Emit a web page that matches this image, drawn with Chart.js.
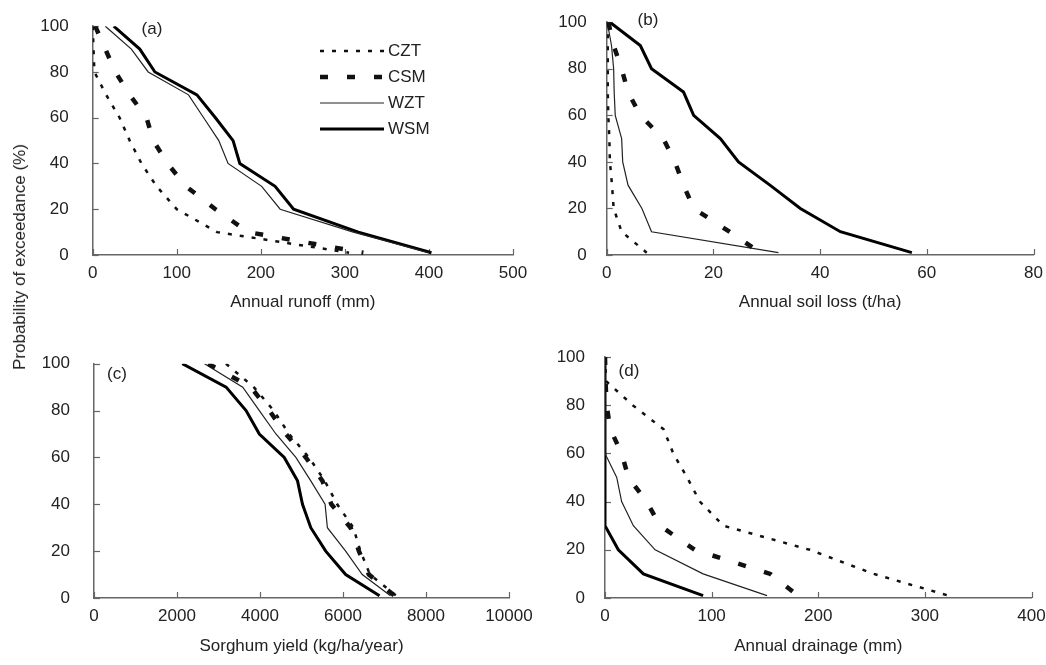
<!DOCTYPE html>
<html><head><meta charset="utf-8">
<script src="https://cdn.jsdelivr.net/npm/chart.js@4/dist/chart.umd.min.js"></script>
<style>
body{margin:0;background:#fff;width:1046px;height:665px;overflow:hidden;position:relative;font-family:"Liberation Sans",Arial,sans-serif}
canvas{position:absolute}
#ylab{position:absolute;left:20px;top:257px;transform:translate(-50%,-50%) rotate(-90deg);white-space:nowrap;font-size:17px;color:#222;line-height:20px}
</style></head><body>
<canvas id="ca" width="533" height="320" style="left:0;top:0"></canvas>
<canvas id="cb" width="513" height="320" style="left:533px;top:0"></canvas>
<canvas id="cc" width="533" height="345" style="left:0;top:320px"></canvas>
<canvas id="cd" width="513" height="345" style="left:533px;top:320px"></canvas>
<div id="ylab">Probability of exceedance (%)</div>
<script>
// Probability of exceedance levels (%)
const prob = [100, 90, 80, 70, 60, 50, 40, 30, 20, 10, 1];
const seriesNames = ["CZT", "CSM", "WZT", "WSM"];

// (a) Annual runoff (mm)
const runoffCZT = [0, 1, 2, 16, 32, 44, 58, 76, 100, 148, 305];
const runoffCSM = [3, 15, 27, 44, 64, 72, 89, 111, 146, 185, 322];
const runoffWZT = [15, 46, 66, 114, 132, 150, 161, 201, 223, 310, 400];
const runoffWSM = [25, 56, 74, 124, 146, 167, 175, 217, 239, 316, 403];

// (b) Annual soil loss (t/ha)
const soilCZT = [0.2, 0.2, 0.2, 0.2, 0.3, 0.5, 0.6, 1.0, 1.3, 2.8, 7.5];
const soilCSM = [0.3, 1.3, 2.8, 4.0, 6.3, 10.6, 12.8, 14.4, 16.3, 23.0, 28.8];
const soilWZT = [0.1, 0.9, 1.3, 1.4, 1.6, 2.8, 3.0, 4.0, 6.6, 8.4, 32.2];
const soilWSM = [0.6, 6.3, 8.4, 14.4, 16.3, 21.3, 24.7, 30.6, 36.3, 43.8, 57.2];

// (c) Sorghum yield (kg/ha/year)
const yieldCZT = [3180, 3850, 4330, 4700, 5180, 5560, 5860, 6250, 6420, 6650, 7280];
const yieldCSM = [2750, 3780, 4224, 4624, 5104, 5504, 5720, 6184, 6384, 6624, 7240];
const yieldWZT = [2664, 3584, 3984, 4384, 4864, 5224, 5568, 5624, 6064, 6464, 7144];
const yieldWSM = [2128, 3184, 3664, 3984, 4584, 4904, 5024, 5224, 5584, 6064, 6880];

// (d) Annual drainage (mm)
const drainCZT = [0, 1, 26, 55, 64, 77, 89, 111, 192, 252, 322];
const drainCSM = [0, 0.5, 1.5, 5, 15.6, 22, 39, 51.6, 84, 155, 181];
const drainWZT = [0, 0, 0, 0, 0, 11, 15.6, 26.6, 47, 92, 152];
const drainWSM = [0, 0, 0, 0, 0, 0, 0, 0, 12.5, 36, 92];

const FONT = '"Liberation Sans", Arial, sans-serif';
const styles = [
  {borderColor:'#111', borderWidth:2.5, borderDash:[4,8]},
  {borderColor:'#111', borderWidth:4.5, borderDash:[8,19]},
  {borderColor:'#222', borderWidth:1.2, borderDash:[]},
  {borderColor:'#000', borderWidth:3, borderDash:[]}
];

const insideTicks = {
  id:'insideTicks',
  beforeDatasetsDraw(chart){
    const {ctx, chartArea:a, scales:{x, y}} = chart;
    ctx.save(); ctx.strokeStyle = '#666'; ctx.lineWidth = 1.2;
    x.ticks.forEach(t => { const px = Math.round(x.getPixelForValue(t.value)) + 0.5;
      ctx.beginPath(); ctx.moveTo(px, a.bottom); ctx.lineTo(px, a.bottom - 6); ctx.stroke(); });
    y.ticks.forEach(t => { const py = Math.round(y.getPixelForValue(t.value)) + 0.5;
      ctx.beginPath(); ctx.moveTo(a.left, py); ctx.lineTo(a.left + 6, py); ctx.stroke(); });
    ctx.restore();
  }
};

const extras = {
  id:'extras',
  afterDatasetsDraw(chart, args, opts){
    const ctx = chart.ctx;
    ctx.save();
    ctx.font = '17px ' + FONT; ctx.fillStyle = '#222'; ctx.textBaseline = 'middle'; ctx.textAlign = 'center';
    if (opts.tag) ctx.fillText(opts.tag, opts.tagX, opts.tagY);
    if (opts.legend) {
      const L = opts.legend;
      chart.data.datasets.forEach((ds, i) => {
        const yy = L.y0 + i * L.dy;
        ctx.strokeStyle = ds.borderColor; ctx.lineWidth = ds.borderWidth; ctx.setLineDash(ds.borderDash || []);
        ctx.beginPath(); ctx.moveTo(L.x0, yy); ctx.lineTo(L.x1, yy); ctx.stroke();
        ctx.setLineDash([]);
        ctx.textAlign = 'left'; ctx.fillStyle = '#222';
        ctx.fillText(ds.label, L.tx, yy);
      });
    }
    ctx.restore();
  }
};

function makeChart(id, xs, xMax, xStep, title, box, extraOpts){
  const datasets = xs.map((arr, k) => ({
    label: seriesNames[k],
    data: prob.map((p, i) => ({x: arr[i], y: p})),
    borderColor: styles[k].borderColor, borderWidth: styles[k].borderWidth, borderDash: styles[k].borderDash,
    pointRadius: 0, tension: 0, fill: false, borderCapStyle:'butt', borderJoinStyle:'miter'
  }));
  return new Chart(document.getElementById(id), {
    type:'line',
    data:{datasets},
    plugins:[insideTicks, extras],
    options:{
      responsive:false, animation:false, devicePixelRatio:1,
      layout:{padding:{top:box.padTop, right:box.padRight, left:0, bottom:0}},
      plugins:{legend:{display:false}, tooltip:{enabled:false}, extras:extraOpts},
      scales:{
        x:{type:'linear', min:0, max:xMax,
          grid:{display:false}, border:{display:true, color:'#666', width:1.5},
          ticks:{stepSize:xStep, padding:0, maxRotation:0, autoSkip:false, color:'#222', font:{family:FONT, size:17},
            callback:(v) => String(v)},
          title:{display:true, text:title, color:'#222', font:{family:FONT, size:17}, padding:{top:0, bottom:box.titlePB}},
          afterFit(s){ s.height = box.xH; }
        },
        y:{type:'linear', min:0, max:100,
          grid:{display:false}, border:{display:true, color:'#666', width:1.5},
          ticks:{stepSize:20, padding:box.yPad, color:'#222', font:{family:FONT, size:17},
            callback:(v) => String(v)},
          afterFit(s){ s.width = box.yW; }
        }
      }
    }
  });
}

makeChart('ca', [runoffCZT, runoffCSM, runoffWZT, runoffWSM], 500, 100, 'Annual runoff (mm)',
  {padTop:19, padRight:20, yW:92.7, xH:65, titlePB:7.3, yPad:16},
  {tag:'(a)', tagX:152, tagY:29, legend:{x0:320, x1:384, tx:388, y0:51, dy:26}});
makeChart('cb', [soilCZT, soilCSM, soilWZT, soilWSM], 80, 20, 'Annual soil loss (t/ha)',
  {padTop:14, padRight:12.5, yW:73.7, xH:65, titlePB:7.3, yPad:12},
  {tag:'(b)', tagX:115, tagY:20});
makeChart('cc', [yieldCZT, yieldCSM, yieldWZT, yieldWSM], 10000, 2000, 'Sorghum yield (kg/ha/year)',
  {padTop:43.7, padRight:24, yW:94, xH:67, titlePB:8.8, yPad:16},
  {tag:'(c)', tagX:117, tagY:54});
makeChart('cd', [drainCZT, drainCSM, drainWZT, drainWSM], 400, 100, 'Annual drainage (mm)',
  {padTop:37, padRight:14.5, yW:72, xH:67, titlePB:8.8, yPad:12},
  {tag:'(d)', tagX:96, tagY:51});
</script>
</body></html>
